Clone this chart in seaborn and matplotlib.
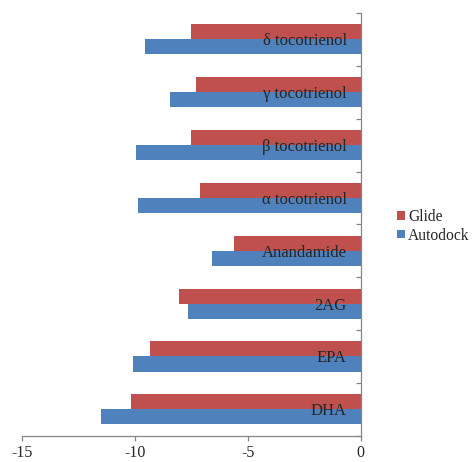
import matplotlib
matplotlib.use("Agg")
import matplotlib.pyplot as plt
import seaborn as sns
import pandas as pd
from matplotlib.ticker import FixedLocator

# Docking scores per ligand (kcal/mol), listed top to bottom
ligands = ["δ tocotrienol", "γ tocotrienol", "β tocotrienol", "α tocotrienol",
           "Anandamide", "2AG", "EPA", "DHA"]
glide = [-7.51, -7.29, -7.51, -7.11, -5.59, -8.03, -9.32, -10.19]
autodock = [-9.54, -8.44, -9.97, -9.87, -6.58, -7.67, -10.10, -11.50]
series = ["Glide", "Autodock"]
colors = {"Glide": "#C0504D", "Autodock": "#4F81BD"}
xticks = [-15, -10, -5, 0]

df = pd.DataFrame({
    "ligand": ligands * 2,
    "score": glide + autodock,
    "program": ["Glide"] * len(ligands) + ["Autodock"] * len(ligands),
})

sns.set_style("white")
plt.rcParams["font.family"] = ["Liberation Serif", "DejaVu Serif"]
plt.rcParams["axes.unicode_minus"] = False
FS = 12

fig = plt.figure(figsize=(4.73, 4.62), dpi=100)
ax = fig.add_axes([0.0465, 0.0569, 0.7161, 0.9150])

sns.barplot(data=df, y="ligand", x="score", hue="program", hue_order=series,
            order=ligands, palette=colors, orient="h", width=0.57,
            saturation=1, edgecolor="none", ax=ax, legend=True)

ax.set_xlim(-15, 0)
ax.set_ylim(len(ligands) - 0.5, -0.5)
ax.set_xlabel("")
ax.set_ylabel("")
# category names are written over the bars
ax.set_axisbelow(False)

# Category axis crosses at x = 0, labels sit just left of it
for side in ("top", "right"):
    ax.spines[side].set_visible(False)
ax.spines["left"].set_position(("data", 0))
for side in ("left", "bottom"):
    ax.spines[side].set_color("#868686")
    ax.spines[side].set_linewidth(0.9)

ax.set_yticks(range(len(ligands)))
ax.set_yticklabels(ligands, fontsize=FS, ha="right")
ax.tick_params(axis="y", which="major", length=0, pad=10)
ax.yaxis.set_minor_locator(FixedLocator([i - 0.5 for i in range(len(ligands) + 1)]))
ax.tick_params(axis="y", which="minor", length=3.5, width=0.9, color="#868686",
               direction="out", left=True)

ax.set_xticks(xticks)
ax.set_xticklabels([str(v) for v in xticks], fontsize=FS - 0.5)
ax.tick_params(axis="x", length=3.5, width=0.9, color="#868686",
               direction="out", bottom=True, pad=3)

handles, labels = ax.get_legend_handles_labels()
ax.get_legend().remove()
fig.legend(handles, labels, loc="center left", bbox_to_anchor=(0.81, 0.51),
           frameon=False, fontsize=11.2, handlelength=0.5, handleheight=0.5,
           handletextpad=0.2, labelspacing=0.15, borderpad=0.4)

fig.savefig("out.png", dpi=100)
